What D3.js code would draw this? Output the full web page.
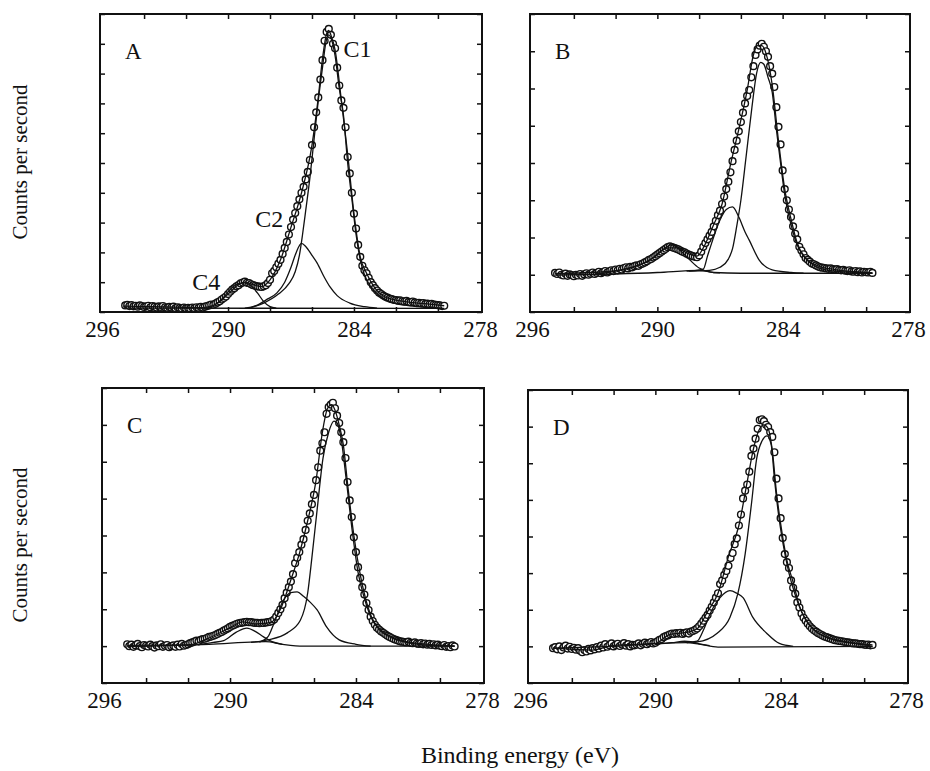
<!DOCTYPE html>
<html>
<head>
<meta charset="utf-8">
<script src="https://cdn.jsdelivr.net/npm/d3@7"></script>
<style>
  body { margin: 0; background: #fff; }
  svg { display: block; }
</style>
</head>
<body>
<svg width="930" height="771"></svg>
<script>
// energy grid of the scans (eV), first channel and step
const firstEnergy = 294.9;
const energyStep = 0.1;

const panelNames = ['A', 'B', 'C', 'D'];
const energyTicks = [296, 290, 284, 278];
const minorTicks = [294, 292, 290, 288, 286, 284, 282, 280];

// counts, one per channel (arbitrary units)
const countsA = [
    0.22, 0.24, 0.2, 0.23, 0.19, 0.21, 0.18, 0.22, 0.2, 0.17,
    0.19, 0.21, 0.16, 0.2, 0.18, 0.15, 0.19, 0.17, 0.2, 0.16,
    0.14, 0.17, 0.15, 0.18, 0.13, 0.16, 0.14, 0.12, 0.15, 0.13,
    0.14, 0.12, 0.15, 0.13, 0.16, 0.14, 0.17, 0.15, 0.18, 0.2,
    0.22, 0.25, 0.24, 0.28, 0.32, 0.36, 0.42, 0.47, 0.52, 0.6,
    0.68, 0.75, 0.8, 0.86, 0.9, 0.96, 0.99, 1.02, 0.98, 0.97,
    0.93, 0.9, 0.88, 0.86, 0.85, 0.84, 0.86, 0.9, 0.97, 1.08,
    1.3, 1.38, 1.5, 1.62, 1.75, 1.95, 2.15, 2.35, 2.6, 2.85,
    3.1, 3.32, 3.55, 3.78, 4.0, 4.2, 4.45, 4.7, 5.1, 5.6,
    6.2, 6.7, 7.2, 7.8, 8.45, 9.1, 9.4, 9.5, 9.3, 9.0,
    8.85, 8.2, 7.6, 7.1, 6.85, 6.2, 5.2, 4.65, 4.0, 3.3,
    2.8, 2.25, 1.85, 1.55, 1.4, 1.3, 1.15, 1.0, 0.9, 0.8,
    0.72, 0.65, 0.6, 0.55, 0.51, 0.48, 0.45, 0.43, 0.41, 0.4,
    0.38, 0.39, 0.36, 0.35, 0.37, 0.34, 0.33, 0.35, 0.32, 0.3,
    0.31, 0.29, 0.3, 0.27, 0.28, 0.26, 0.27, 0.25, 0.24, 0.23,
    0.22, 0.2, 0.21,
];
const countsB = [
    1.05, 1.02, 1.06, 1.0, 0.98, 1.03, 0.97, 1.01, 0.99, 0.96,
    1.0, 0.98, 1.02, 0.97, 1.01, 1.04, 1.0, 1.03, 1.06, 1.02,
    1.05, 1.08, 1.04, 1.07, 1.1, 1.06, 1.09, 1.12, 1.1, 1.14,
    1.12, 1.16, 1.14, 1.18, 1.2, 1.17, 1.21, 1.2, 1.23, 1.25,
    1.24, 1.28, 1.3, 1.33, 1.36, 1.4, 1.42, 1.46, 1.5, 1.54,
    1.58, 1.62, 1.66, 1.7, 1.74, 1.76, 1.74, 1.72, 1.7, 1.68,
    1.65, 1.62, 1.6, 1.57, 1.54, 1.52, 1.5, 1.48, 1.47, 1.52,
    1.62, 1.75, 1.85, 1.95, 2.05, 2.15, 2.3, 2.45, 2.6, 2.72,
    2.9, 3.1, 3.3, 3.5, 3.75, 4.05, 4.35, 4.6, 4.85, 5.1,
    5.35, 5.6, 5.8, 5.96, 6.3, 6.6, 6.9, 7.05, 7.15, 7.2,
    7.12, 7.0, 6.85, 6.6, 6.4, 6.04, 5.5, 4.97, 4.5, 3.8,
    3.3, 3.0, 2.75, 2.55, 2.3, 2.1, 1.95, 1.75, 1.65, 1.55,
    1.45, 1.4, 1.35, 1.3, 1.28, 1.25, 1.22, 1.2, 1.19, 1.18,
    1.17, 1.16, 1.17, 1.15, 1.14, 1.15, 1.13, 1.12, 1.13, 1.11,
    1.1, 1.12, 1.09, 1.08, 1.1, 1.07, 1.09, 1.06, 1.08, 1.07,
    1.06, 1.08, 1.05,
];
const countsC = [
    1.05, 1.0, 1.04, 0.98, 1.02, 1.06, 1.0, 0.97, 1.03, 1.01,
    0.99, 1.04, 1.0, 0.96, 1.02, 1.0, 1.05, 0.98, 1.01, 1.03,
    0.97, 1.0, 1.02, 0.98, 1.04, 0.99, 1.06, 1.01, 1.03, 1.05,
    1.08, 1.1, 1.12, 1.15, 1.13, 1.17, 1.19, 1.2, 1.22, 1.25,
    1.26, 1.28, 1.3, 1.33, 1.36, 1.38, 1.42, 1.45, 1.48, 1.52,
    1.55, 1.57, 1.6, 1.62, 1.63, 1.64, 1.65, 1.66, 1.65, 1.65,
    1.64, 1.63, 1.63, 1.62, 1.63, 1.63, 1.64, 1.65, 1.66, 1.68,
    1.72, 1.8, 1.9, 2.0, 2.12, 2.3, 2.45, 2.6, 2.75, 2.95,
    3.25, 3.4, 3.55, 3.75, 3.9, 4.15, 4.4, 4.6, 4.85, 5.1,
    5.5, 5.85, 6.3, 6.5, 6.8, 7.3, 7.48, 7.55, 7.6, 7.45,
    7.25, 7.05, 6.8, 6.53, 6.1, 5.45, 4.95, 4.5, 3.95, 3.55,
    3.14, 2.85, 2.6, 2.4, 2.17, 1.98, 1.8, 1.68, 1.58, 1.5,
    1.45, 1.4, 1.36, 1.32, 1.28, 1.25, 1.22, 1.19, 1.17, 1.15,
    1.13, 1.12, 1.11, 1.1, 1.12, 1.09, 1.08, 1.1, 1.07, 1.06,
    1.08, 1.05, 1.07, 1.04, 1.06, 1.03, 1.05, 1.02, 1.04, 1.01,
    1.0, 1.03, 0.98, 1.0, 0.97, 1.02, 0.99,
];
const countsD = [
    0.95, 0.98, 0.92, 1.0, 0.9, 0.97, 1.02, 0.94, 0.99, 0.93,
    0.96, 0.91, 0.95, 0.88, 0.84, 0.9, 0.86, 0.93, 0.89, 0.95,
    0.92, 0.98, 0.94, 1.02, 0.97, 1.06, 0.99, 1.03, 1.08, 1.0,
    1.04, 1.07, 1.01, 1.05, 1.09, 1.02, 1.06, 1.0, 1.04, 1.03,
    1.05, 1.08, 1.03, 1.07, 1.1, 1.06, 1.09, 1.12, 1.08, 1.1,
    1.14, 1.18, 1.2, 1.25, 1.28, 1.3, 1.33, 1.35, 1.34, 1.36,
    1.35, 1.37, 1.34, 1.36, 1.38, 1.35, 1.4, 1.42, 1.45, 1.49,
    1.55, 1.62, 1.7, 1.78, 1.86, 1.98, 2.08, 2.2, 2.33, 2.45,
    2.7, 2.8, 2.95, 3.06, 3.2, 3.41, 3.55, 3.79, 3.95, 4.3,
    4.6, 5.04, 5.25, 5.42, 5.77, 6.2, 6.4, 6.67, 6.94, 7.18,
    7.2, 7.15, 7.05, 6.99, 6.85, 6.72, 6.3, 5.58, 5.04, 4.5,
    3.96, 3.52, 3.3, 3.14, 2.8, 2.6, 2.44, 2.2, 2.06, 1.9,
    1.78, 1.7, 1.62, 1.55, 1.49, 1.44, 1.4, 1.36, 1.33, 1.3,
    1.27, 1.25, 1.23, 1.21, 1.19, 1.17, 1.16, 1.15, 1.14, 1.13,
    1.12, 1.11, 1.1, 1.09, 1.08, 1.08, 1.07, 1.06, 1.06, 1.05,
    1.04, 1.05, 1.03, 1.04,
];

// fitted envelope and components, [energy, counts]
const fitA = [[295, 0.2], [293, 0.17], [291.2, 0.15], [290.5, 0.3], [290, 0.6], [289.5, 0.92], [289.2, 1.0], [288.8, 0.92], [288.4, 0.85], [288, 1.08], [287.5, 1.75], [287, 2.85], [286.5, 4.0], [286, 5.6], [285.7, 7.2], [285.5, 8.5], [285.3, 9.35], [285.2, 9.45], [285.1, 9.3], [284.9, 8.8], [284.6, 7.1], [284.3, 5.3], [284, 3.3], [283.7, 1.85], [283.4, 1.3], [283, 0.8], [282.5, 0.5], [281.5, 0.34], [280.5, 0.27], [279.7, 0.21]];
const c1A = [[289, 0.13], [288.3, 0.3], [287.6, 0.6], [287.1, 0.95], [286.8, 1.35], [286.6, 1.9], [286.45, 2.6], [286.3, 3.4], [286.1, 4.5], [285.9, 5.8], [285.7, 7.1], [285.5, 8.2], [285.35, 9.0], [285.2, 9.3], [285.05, 9.1], [284.9, 8.6], [284.7, 7.5], [284.5, 6.6], [284.3, 5.0], [284.1, 3.8], [283.9, 2.6], [283.7, 1.75], [283.5, 1.25], [283.2, 0.85], [282.8, 0.55], [282.3, 0.35], [281.5, 0.22], [280.5, 0.15], [279.8, 0.13]];
const c2A = [[289.2, 0.13], [288.6, 0.23], [288.2, 0.4], [287.67, 0.64], [287.3, 1.0], [287, 1.5], [286.75, 2.0], [286.5, 2.3], [286.3, 2.2], [286, 1.9], [285.76, 1.65], [285.4, 1.15], [285.14, 0.84], [284.8, 0.55], [284.2, 0.3], [283.5, 0.18], [282.9, 0.13]];
const c4A = [[291, 0.13], [290.6, 0.25], [290.24, 0.47], [289.9, 0.75], [289.5, 0.95], [289.2, 0.98], [288.9, 0.88], [288.6, 0.64], [288.3, 0.35], [288, 0.18], [287.7, 0.13]];
const baseA = [[295, 0.13], [279.7, 0.12]];

const fitB = [[294.9, 1.03], [292.5, 1.08], [291, 1.24], [290.2, 1.45], [289.5, 1.72], [289.1, 1.72], [288.5, 1.56], [288.1, 1.5], [287.8, 1.72], [287.3, 2.35], [286.9, 2.9], [286.5, 3.95], [286.1, 4.9], [285.7, 5.95], [285.4, 6.9], [285.2, 7.15], [285, 7.15], [284.8, 6.95], [284.5, 6.1], [284.2, 4.6], [283.9, 3.3], [283.6, 2.5], [283.3, 1.85], [282.9, 1.45], [282.3, 1.24], [281.5, 1.14], [280.5, 1.08], [279.7, 1.05]];
const c1B = [[288.5, 1.1], [287.5, 1.12], [287, 1.2], [286.6, 1.42], [286.4, 1.7], [286.2, 2.3], [286, 3.0], [285.75, 4.17], [285.47, 5.5], [285.25, 6.4], [285.05, 6.7], [284.9, 6.65], [284.7, 6.3], [284.5, 5.9], [284.3, 4.9], [284.1, 4.0], [283.9, 3.15], [283.6, 2.35], [283.3, 1.8], [283, 1.5], [282.5, 1.25], [281.8, 1.12], [280.5, 1.06], [279.7, 1.04]];
const c2B = [[288.6, 1.1], [288.2, 1.11], [287.8, 1.15], [287.6, 1.5], [287.4, 1.85], [287, 2.47], [286.7, 2.75], [286.4, 2.82], [286.1, 2.55], [285.8, 2.15], [285.6, 1.93], [285.13, 1.4], [284.5, 1.13], [283.6, 1.06], [283, 1.04]];
const c4B = [[293, 1.02], [292, 1.1], [291.2, 1.2], [290.35, 1.4], [289.8, 1.65], [289.3, 1.8], [288.9, 1.65], [288.45, 1.4], [288, 1.18], [287.5, 1.08], [287, 1.05]];
const baseB = [[294.9, 0.99], [290, 1.06], [288, 1.12], [287.3, 1.06], [286, 1.04], [279.7, 1.04]];

const fitC = [[294.9, 1.02], [292, 1.03], [291, 1.22], [290, 1.5], [289.4, 1.66], [288.8, 1.6], [288.3, 1.62], [288, 1.66], [287.6, 2.0], [287.1, 2.8], [286.7, 3.5], [286.3, 4.4], [285.9, 5.5], [285.6, 6.8], [285.35, 7.45], [285.15, 7.55], [285, 7.4], [284.8, 7.0], [284.6, 6.45], [284.4, 5.4], [284.1, 4.0], [283.8, 2.95], [283.5, 2.2], [283.2, 1.72], [282.9, 1.48], [282.4, 1.28], [281.6, 1.12], [280.5, 1.05], [279.3, 1.0]];
const c1C = [[289, 1.1], [288.2, 1.17], [287.27, 1.36], [286.65, 1.7], [286.3, 2.44], [286.1, 3.4], [285.85, 4.7], [285.57, 6.1], [285.3, 6.8], [285.05, 7.1], [284.9, 7.05], [284.7, 6.6], [284.45, 5.45], [284.15, 4.0], [283.9, 3.0], [283.6, 2.3], [283.3, 1.8], [282.9, 1.45], [282.4, 1.25], [281.6, 1.1], [280.5, 1.02], [279.3, 1.0]];
const c2C = [[288.6, 1.11], [288.2, 1.25], [287.9, 1.63], [287.45, 2.25], [287.1, 2.45], [286.8, 2.47], [286.5, 2.35], [286.2, 2.2], [285.85, 1.98], [285.4, 1.52], [284.8, 1.17], [284, 1.05], [283.3, 1.0]];
const c4C = [[291.5, 1.04], [290.8, 1.1], [290.3, 1.15], [289.7, 1.38], [289.2, 1.49], [288.8, 1.4], [288.4, 1.25], [288, 1.12], [287.5, 1.05]];
const baseC = [[294.9, 0.99], [291, 1.05], [288.3, 1.12], [287.5, 1.05], [286.5, 1.0], [279.3, 1.0]];

const fitD = [[294.9, 0.95], [293, 0.9], [292, 1.03], [290, 1.08], [289.3, 1.33], [288.5, 1.38], [288, 1.48], [287.5, 1.95], [287, 2.45], [286.5, 3.45], [286, 4.3], [285.6, 5.5], [285.3, 6.4], [285, 6.95], [284.8, 7.05], [284.6, 6.95], [284.4, 6.35], [284.2, 5.2], [284, 4.35], [283.7, 3.35], [283.4, 2.75], [283.1, 2.1], [282.8, 1.72], [282.4, 1.45], [281.8, 1.26], [281, 1.14], [280, 1.06], [279.6, 1.04]];
const c1D = [[288.5, 1.1], [288, 1.12], [287.04, 1.36], [286.43, 1.79], [286.05, 2.44], [285.7, 3.52], [285.4, 4.88], [285.15, 6.12], [284.9, 6.6], [284.65, 6.75], [284.45, 6.5], [284.3, 5.6], [284.1, 4.6], [283.9, 3.85], [283.6, 3.0], [283.3, 2.4], [283, 1.95], [282.7, 1.65], [282.3, 1.4], [281.7, 1.22], [281, 1.12], [280, 1.04], [279.6, 1.0]];
const c2D = [[288.5, 1.1], [288, 1.14], [287.7, 1.44], [287.37, 1.9], [286.9, 2.33], [286.43, 2.52], [286.1, 2.45], [285.8, 2.33], [285.33, 1.79], [284.67, 1.36], [284.06, 1.08], [283.4, 1.0]];
const c4D = [[290, 1.06], [289.2, 1.1], [288.6, 1.14], [288.3, 1.13], [287.9, 1.07], [287.4, 1.02]];
const baseD = [[294.9, 0.95], [292, 1.0], [288.5, 1.1], [287.9, 1.06], [287, 0.98], [279.6, 1.0]];

// top of the counts axis for each panel
const yMaxes = [10, 8, 8, 8];

// peak labels of panel A: [label, energy, counts]
const peakLabels = [['C1', 284.5, 8.55], ['C2', 288.7, 2.85], ['C4', 291.7, 0.74]];

const data = {
    A: { counts: countsA, lines: [baseA, c4A, c2A, c1A, fitA] },
    B: { counts: countsB, lines: [baseB, c4B, c2B, c1B, fitB] },
    C: { counts: countsC, lines: [baseC, c4C, c2C, c1C, fitC] },
    D: { counts: countsD, lines: [baseD, c4D, c2D, c1D, fitD] },
};

// panel boxes in pixels: x0, y0, x1, y1
const boxes = {
    A: [100, 14, 482, 312],
    B: [530, 14, 910, 312],
    C: [102, 388, 484, 683],
    D: [528, 390, 908, 683],
};

const font = '"Liberation Serif", "Times New Roman", serif';
const ink = '#111';

const svg = d3.select('svg');
svg.append('rect').attr('width', 930).attr('height', 771).attr('fill', '#fff');

panelNames.forEach((name, pi) => {
    const [x0, y0, x1, y1] = boxes[name];
    const x = d3.scaleLinear().domain([296.1, 277.9]).range([x0, x1]);
    const y = d3.scaleLinear().domain([0, yMaxes[pi]]).range([y1, y0]);
    const g = svg.append('g').attr('class', 'panel panel-' + name);

    const tickAxes = [
        [d3.axisBottom(x).tickValues(minorTicks), `translate(0,${y1})`],
        [d3.axisTop(x).tickValues(minorTicks), `translate(0,${y0})`],
        [d3.axisLeft(y).ticks(yMaxes[pi]), `translate(${x0},0)`],
        [d3.axisRight(y).ticks(yMaxes[pi]), `translate(${x1},0)`],
    ];
    tickAxes.forEach(([axis, tr]) => {
        const a = g.append('g')
            .attr('transform', tr)
            .call(axis.tickSize(-5).tickFormat(''));
        a.select('.domain').remove();
        a.selectAll('line').attr('stroke', ink).attr('stroke-width', 1.5);
    });

    const labels = g.append('g')
        .attr('transform', `translate(0,${y1})`)
        .call(d3.axisBottom(x).tickValues(energyTicks).tickSize(0).tickPadding(9));
    labels.select('.domain').remove();
    labels.selectAll('text')
        .attr('font-family', font)
        .attr('font-size', 23)
        .attr('fill', ink);

    g.append('rect')
        .attr('x', x0)
        .attr('y', y0)
        .attr('width', x1 - x0)
        .attr('height', y1 - y0)
        .attr('fill', 'none')
        .attr('stroke', ink)
        .attr('stroke-width', 2);

    const points = data[name].counts.map((v, i) => [firstEnergy - i * energyStep, v]);

    g.append('g')
        .selectAll('circle')
        .data(points)
        .enter()
        .append('circle')
        .attr('cx', d => x(d[0]))
        .attr('cy', d => y(d[1]))
        .attr('r', 3.4)
        .attr('fill', '#fff')
        .attr('stroke', ink)
        .attr('stroke-width', 1.4);

    const line = d3.line()
        .x(d => x(d[0]))
        .y(d => y(d[1]))
        .curve(d3.curveMonotoneX);

    g.append('g')
        .selectAll('path')
        .data(data[name].lines)
        .enter()
        .append('path')
        .attr('d', line)
        .attr('fill', 'none')
        .attr('stroke', ink)
        .attr('stroke-width', 1.3);

    g.append('text')
        .text(name)
        .attr('x', x0 + 25)
        .attr('y', y0 + 45)
        .attr('font-family', font)
        .attr('font-size', 23)
        .attr('fill', ink);

    if (name === 'A') {
        g.selectAll('.peak')
            .data(peakLabels)
            .enter()
            .append('text')
            .attr('class', 'peak')
            .text(d => d[0])
            .attr('x', d => x(d[1]))
            .attr('y', d => y(d[2]))
            .attr('font-family', font)
            .attr('font-size', 24)
            .attr('fill', ink);
    }
});

[162, 545].forEach(cy => {
    svg.append('text')
        .text('Counts per second')
        .attr('transform', `translate(27,${cy}) rotate(-90)`)
        .attr('text-anchor', 'middle')
        .attr('font-family', font)
        .attr('font-size', 21)
        .attr('fill', ink);
});

svg.append('text')
    .text('Binding energy (eV)')
    .attr('x', 520)
    .attr('y', 763)
    .attr('text-anchor', 'middle')
    .attr('font-family', font)
    .attr('font-size', 24)
    .attr('fill', ink);
</script>
</body>
</html>
